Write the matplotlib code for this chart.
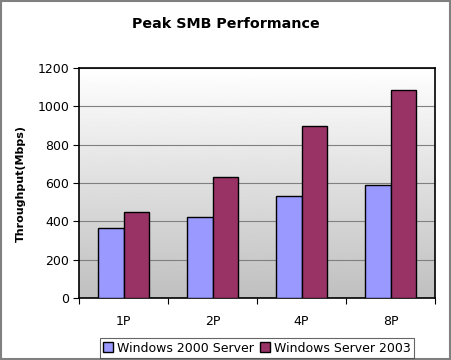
import numpy as np
import matplotlib.pyplot as plt
from matplotlib.patches import Rectangle

# Данные
categories = ['1P', '2P', '4P', '8P']
win2000 = [365, 425, 530, 590]
win2003 = [450, 630, 900, 1085]
series_names = ['Windows 2000 Server', 'Windows Server 2003']
colors = ['#9999FF', '#993366']

fig = plt.figure(figsize=(4.51, 3.6), dpi=100)
fig.patch.set_facecolor('white')
fig.patches.append(Rectangle((0.003, 0.003), 0.994, 0.994, transform=fig.transFigure,
                             fill=False, edgecolor='#808080', linewidth=1.5))

ax = fig.add_axes([79 / 451, 1 - 298 / 360, 356 / 451, 230 / 360])

# Градиентный фон области построения
grad = np.linspace(1, 0.75, 256).reshape(-1, 1)
ax.imshow(grad, cmap='gray', vmin=0, vmax=1, aspect='auto',
          extent=(0, 1, 0, 1), transform=ax.transAxes, zorder=0)

x = np.arange(len(categories))
w = 0.29
ax.bar(x - w / 2, win2000, w, color=colors[0], edgecolor='black', linewidth=1,
       label=series_names[0], zorder=3)
ax.bar(x + w / 2, win2003, w, color=colors[1], edgecolor='black', linewidth=1,
       label=series_names[1], zorder=3)

ax.set_xlim(-0.5, len(categories) - 0.5)
ax.set_ylim(0, 1200)
ax.set_yticks(range(0, 1201, 200))
ax.set_xticks(np.arange(-0.5, len(categories), 1.0), minor=False)
ax.set_xticklabels([])
ax.set_xticks(x, minor=True)
ax.set_xticklabels(categories, minor=True)
ax.tick_params(axis='x', which='minor', length=0, pad=12, labelsize=9)
ax.tick_params(axis='x', which='major', length=4, direction='out')
ax.tick_params(axis='y', length=4, direction='out', labelsize=9, pad=3)
ax.yaxis.grid(True, color='#808080', linewidth=0.8, zorder=1)
ax.set_axisbelow(True)
for s in ax.spines.values():
    s.set_linewidth(1.2)
    s.set_color('black')

ax.set_ylabel('Throughput(Mbps)', fontsize=8, fontweight='bold', labelpad=8)
fig.text(0.5, 1 - 24 / 360, 'Peak SMB Performance', ha='center', va='center',
         fontsize=10.3, fontweight='bold')

leg = fig.legend(loc='center', bbox_to_anchor=(0.57, 1 - 348 / 360), ncol=2,
                 fontsize=9, frameon=True, fancybox=False, handlelength=0.8,
                 handleheight=0.8, handletextpad=0.3, columnspacing=0.5,
                 borderpad=0.25, borderaxespad=0)
leg.get_frame().set_edgecolor('#404040')
leg.get_frame().set_linewidth(0.8)

fig.savefig('out.png', dpi=100)
